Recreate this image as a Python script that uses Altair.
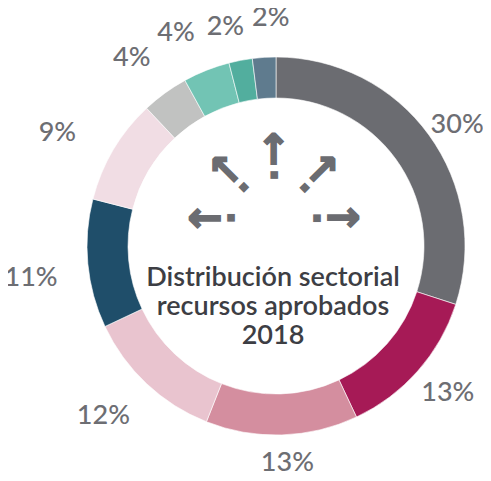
import altair as alt
import pandas as pd

# Slice data (clockwise from 12 o'clock)
labels = ["30%", "13%", "13%", "12%", "11%", "9%", "4%", "4%", "2%", "2%"]
values = [30, 13, 13, 12, 11, 9, 4, 4, 2, 2]
colors = ["#6b6c71", "#a61a56", "#d48e9f", "#e9c4cf", "#1f4e6a",
          "#f1dde4", "#c1c2c1", "#72c4b4", "#52ae9e", "#5f7b8e"]
sectors = [f"s{i}" for i in range(len(values))]

title_text = "Distribución sectorial\nrecursos aprobados\n2018"

# Decorative icon: arrow directions (compass degrees)
icon_dirs = [270, 315, 0, 45, 90]

df = pd.DataFrame({"sector": sectors, "value": values, "label": labels,
                   "idx": list(range(len(values)))})
icon = pd.DataFrame({"dir": icon_dirs})

CX, CY = 268, 238

arcs = alt.Chart(df).mark_arc(radius=189, radius2=148, stroke="#ffffff", strokeWidth=0.6).encode(
    theta=alt.Theta("value:Q", stack=True),
    order=alt.Order("idx:Q"),
    x=alt.value(CX),
    y=alt.value(CY),
    color=alt.Color("sector:N", scale=alt.Scale(domain=sectors, range=colors), legend=None),
)

# label placement: slice mid-angle with small anti-collision nudges
lbls = alt.Chart(df).transform_window(
    cum="sum(value)", sort=[alt.SortField("idx")]
).transform_joinaggregate(
    total="sum(value)"
).transform_calculate(
    th="(datum.cum - datum.value / 2) / datum.total * 2 * PI"
       " + [2.2, -0.9, -1.2, 2.3, -2, -3.3, -1.5, -3.6, -2.2, 2.3][datum.idx] * PI / 180",
    r="[218, 226, 217, 242, 247, 246, 237, 235, 225, 228][datum.idx]",
).mark_text(font="Lato", fontSize=27, fontWeight=500, color="#6d6e73",
            align="center", baseline="middle").encode(
    text="label:N",
    theta=alt.Theta("th:Q", scale=None),
    radius=alt.Radius("r:Q", scale=None),
    x=alt.value(CX),
    y=alt.value(CY),
)

center = alt.Chart(pd.DataFrame({"t": [title_text]})).mark_text(
    font="Lato", fontSize=27, fontWeight=600, color="#3d3e44", lineBreak="\n",
    lineHeight=29, align="center", baseline="middle"
).encode(text="t:N", x=alt.value(265), y=alt.value(270))

icon_base = alt.Chart(icon).transform_calculate(
    th="datum.dir * PI / 180",
    rot="(datum.dir + 270) % 360",
).encode(
    theta=alt.Theta("th:Q", scale=None),
    angle=alt.Angle("rot:Q", scale=None),
    x=alt.value(266),
    y=alt.value(210),
)

arrows = icon_base.mark_text(font="DejaVu Sans", fontWeight="bold", fontSize=42,
                             color="#6b6c71", stroke="#6b6c71", strokeWidth=1.6,
                             radius=69, align="center", baseline="middle").encode(
    text=alt.value("→")
)
dots = icon_base.mark_text(font="DejaVu Sans", fontSize=10, color="#6b6c71",
                           radius=43, align="center", baseline="middle").encode(
    text=alt.value("■")
)

chart = alt.layer(arcs, lbls, center, arrows, dots).resolve_scale(
    theta="independent"
).properties(
    width=475, height=465, autosize=alt.AutoSizeParams(type="none"), padding=0
).configure_view(stroke=None)

chart.save("out.html", embed_options={"renderer": "svg", "actions": False})
